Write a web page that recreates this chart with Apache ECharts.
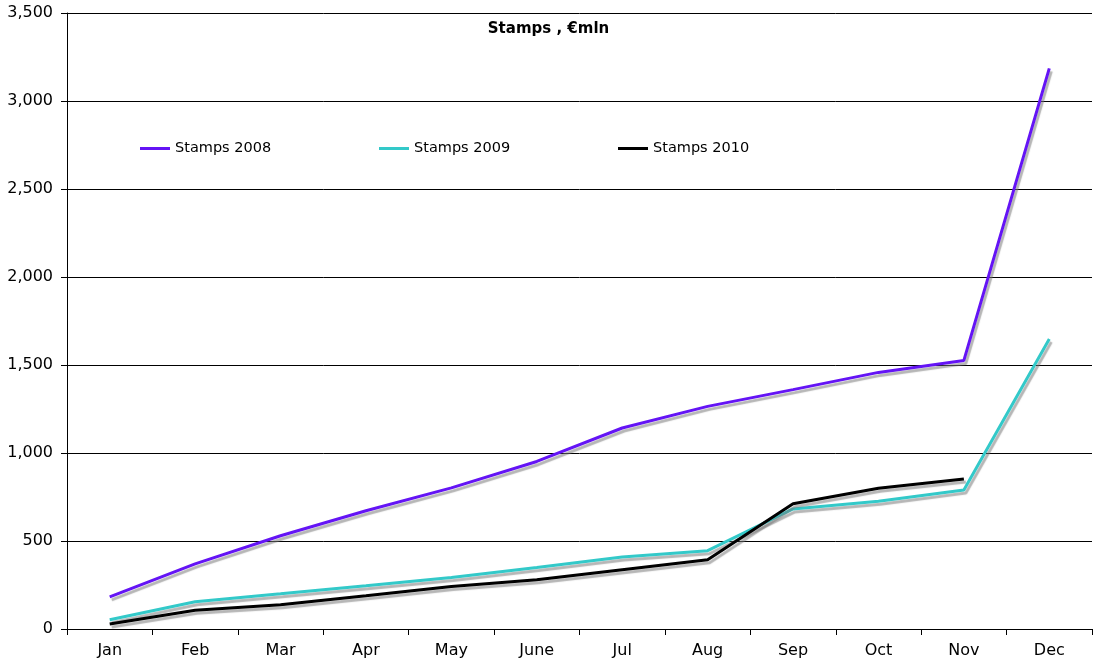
<!DOCTYPE html>
<html><head><meta charset="utf-8">
<script src="https://cdn.jsdelivr.net/npm/echarts@6/dist/echarts.min.js"></script>
<style>html,body{margin:0;padding:0;background:#fff}#c{width:1097px;height:665px}</style>
</head><body><div id="c"></div>
<script>
const categories = ['Jan','Feb','Mar','Apr','May','June','Jul','Aug','Sep','Oct','Nov','Dec'];
const stamps2008 = [182, 370, 530, 672, 802, 952, 1142, 1265, 1360, 1458, 1526, 3185];
const stamps2009 = [53, 155, 200, 246, 293, 350, 409, 445, 682, 726, 790, 1648];
const stamps2010 = [28, 106, 138, 189, 242, 280, 337, 394, 712, 800, 852, null];
const seriesNames = ['Stamps 2008','Stamps 2009','Stamps 2010'];
const colors = ['#6414f5','#33c9c9','#000000'];
const font = 'Verdana, "DejaVu Sans", sans-serif';

const chart = echarts.init(document.getElementById('c'), null, {renderer:'canvas'});
const mkSeries = (name, data, color) => ({
  name, type:'line', data, symbol:'none', color,
  lineStyle:{width:3, color, shadowColor:'rgba(120,120,120,0.55)', shadowBlur:1, shadowOffsetX:2, shadowOffsetY:3},
  animation:false
});
const mkLegend = (name, left) => ({
  data:[name], left, top:141, padding:0, icon:'rect', itemWidth:30, itemHeight:3,
  textStyle:{fontFamily:font, fontSize:14.5, color:'#000'},
  selectedMode:false
});
chart.setOption({
  animation:false,
  title:{text:'Stamps , €mln', left:'center', top:22, padding:0,
    textStyle:{fontFamily:font, fontSize:15, fontWeight:'bold', color:'#000'}},
  legend:[mkLegend(seriesNames[0],140), mkLegend(seriesNames[1],379), mkLegend(seriesNames[2],618)],
  grid:{left:67, right:5, top:13, bottom:36, containLabel:false},
  xAxis:{type:'category', data:categories, boundaryGap:true,
    axisLine:{lineStyle:{color:'#000', width:1}},
    axisTick:{show:true, interval:0, length:6, lineStyle:{color:'#000'}},
    axisLabel:{interval:0, fontFamily:font, fontSize:16, color:'#000', margin:14}},
  yAxis:{type:'value', min:0, max:3500, interval:500,
    axisLine:{show:true, lineStyle:{color:'#000', width:1}},
    axisTick:{show:true, length:6, lineStyle:{color:'#000'}},
    splitLine:{show:true, lineStyle:{color:'#000', width:1}},
    axisLabel:{fontFamily:font, fontSize:16, color:'#000', margin:14,
      formatter:v=>v.toLocaleString('en-US')}},
  series:[mkSeries(seriesNames[0],stamps2008,colors[0]), mkSeries(seriesNames[1],stamps2009,colors[1]), mkSeries(seriesNames[2],stamps2010,colors[2])]
});
</script></body></html>
